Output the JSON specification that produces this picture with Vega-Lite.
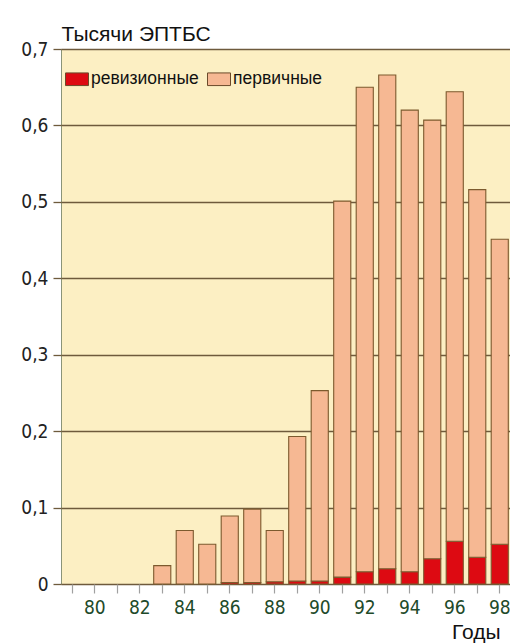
{
  "$schema": "https://vega.github.io/schema/vega-lite/v6.json",
  "autosize": "none",
  "padding": {"left": 61, "top": 49, "right": 0, "bottom": 59},
  "width": 450,
  "height": 535,
  "background": "#ffffff",
  "data": {
    "values": [
      {"year": 83, "type": "первичные", "value": 0.024},
      {"year": 84, "type": "первичные", "value": 0.070},
      {"year": 85, "type": "первичные", "value": 0.052},
      {"year": 86, "type": "ревизионные", "value": 0.002},
      {"year": 86, "type": "первичные", "value": 0.087},
      {"year": 87, "type": "ревизионные", "value": 0.002},
      {"year": 87, "type": "первичные", "value": 0.096},
      {"year": 88, "type": "ревизионные", "value": 0.003},
      {"year": 88, "type": "первичные", "value": 0.067},
      {"year": 89, "type": "ревизионные", "value": 0.004},
      {"year": 89, "type": "первичные", "value": 0.189},
      {"year": 90, "type": "ревизионные", "value": 0.004},
      {"year": 90, "type": "первичные", "value": 0.249},
      {"year": 91, "type": "ревизионные", "value": 0.009},
      {"year": 91, "type": "первичные", "value": 0.492},
      {"year": 92, "type": "ревизионные", "value": 0.016},
      {"year": 92, "type": "первичные", "value": 0.634},
      {"year": 93, "type": "ревизионные", "value": 0.020},
      {"year": 93, "type": "первичные", "value": 0.646},
      {"year": 94, "type": "ревизионные", "value": 0.016},
      {"year": 94, "type": "первичные", "value": 0.604},
      {"year": 95, "type": "ревизионные", "value": 0.033},
      {"year": 95, "type": "первичные", "value": 0.574},
      {"year": 96, "type": "ревизионные", "value": 0.056},
      {"year": 96, "type": "первичные", "value": 0.588},
      {"year": 97, "type": "ревизионные", "value": 0.035},
      {"year": 97, "type": "первичные", "value": 0.481},
      {"year": 98, "type": "ревизионные", "value": 0.052},
      {"year": 98, "type": "первичные", "value": 0.399}
    ]
  },
  "mark": {"type": "bar", "stroke": "#7c5a2e", "strokeWidth": 1.1},
  "encoding": {
    "x": {
      "field": "year",
      "type": "ordinal",
      "scale": {"domain": [79,80,81,82,83,84,85,86,87,88,89,90,91,92,93,94,95,96,97,98], "paddingInner": 0.24, "paddingOuter": 0.12},
      "axis": {
        "title": "Годы",
        "titleFont": "Liberation Sans",
        "titleFontSize": 21,
        "titleFontWeight": "normal",
        "titleColor": "#111111",
        "titleX": 439,
        "titleY": 54,
        "titleAlign": "right",
        "titleBaseline": "alphabetic",
        "labelAngle": 0,
        "labelExpr": "datum.value % 2 == 0 ? datum.label : ''",
        "labelFont": "DejaVu Sans Condensed, Roboto, sans-serif",
        "labelFontSize": 19,
        "labelColor": "#1e4a2a",
        "labelPadding": 5,
        "tickSize": 9,
        "tickColor": "#a0a0a0",
        "tickWidth": 1.2,
        "domain": false,
        "grid": false
      }
    },
    "y": {
      "field": "value",
      "type": "quantitative",
      "aggregate": "sum",
      "stack": "zero",
      "scale": {"domain": [0, 0.7], "nice": false},
      "axis": {
        "title": "Тысячи ЭПТБС",
        "titleFont": "Liberation Sans",
        "titleFontSize": 21,
        "titleFontWeight": "normal",
        "titleColor": "#111111",
        "titleAngle": 0,
        "titleX": 0,
        "titleY": -9,
        "titleAlign": "left",
        "titleBaseline": "alphabetic",
        "values": [0, 0.1, 0.2, 0.3, 0.4, 0.5, 0.6, 0.7],
        "labelExpr": "datum.value == 0 ? '0' : replace(format(datum.value, '.1f'), '.', ',')",
        "labelFont": "DejaVu Sans Condensed, Roboto, sans-serif",
        "labelFontSize": 19,
        "labelColor": "#222222",
        "labelPadding": 5,
        "tickSize": 8,
        "tickColor": "#6e5a3c",
        "tickWidth": 1.3,
        "grid": true,
        "gridColor": "#6e5a3c",
        "gridWidth": 1.3,
        "gridOpacity": 1,
        "domain": false
      }
    },
    "color": {
      "field": "type",
      "type": "nominal",
      "scale": {"domain": ["ревизионные", "первичные"], "range": ["#dd0a12", "#f6b893"]},
      "legend": {
        "title": null,
        "orient": "none",
        "legendX": 4,
        "legendY": 18,
        "direction": "horizontal",
        "symbolType": "M-1,-0.55H1V0.55H-1Z",
        "symbolSize": 529,
        "symbolStrokeColor": "#6b4a2a",
        "symbolStrokeWidth": 1,
        "symbolOpacity": 1,
        "labelFont": "Liberation Sans",
        "labelFontSize": 17.5,
        "labelColor": "#111111",
        "labelOffset": 2,
        "columnPadding": 6,
        "padding": 0
      }
    },
    "order": {"field": "type", "sort": "descending"}
  },
  "config": {
    "view": {"fill": "#fcefc3", "stroke": "#8a9478", "strokeWidth": 1}
  }
}
